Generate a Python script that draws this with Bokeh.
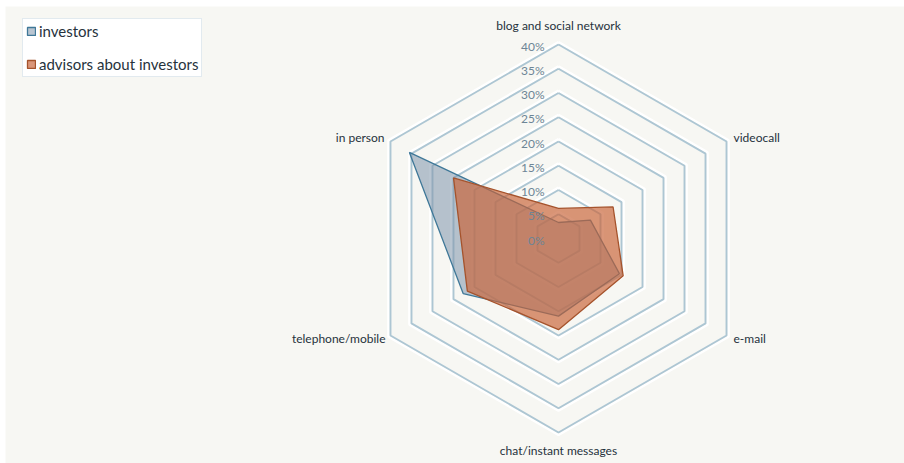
import numpy as np
from bokeh.plotting import figure
from bokeh.models import ColumnDataSource, Legend, LegendItem
from bokeh.core.properties import value
from bokeh.embed import file_html
from bokeh.resources import INLINE

# ---- data ----
categories = ["blog and social network", "videocall", "e-mail",
              "chat/instant messages", "telephone/mobile", "in person"]
investors = [3.3, 7.6, 14.5, 16.0, 22.7, 35.5]
advisors = [6.2, 13.0, 15.4, 18.8, 21.7, 25.0]
ring_ticks = [0, 5, 10, 15, 20, 25, 30, 35, 40]
tick_labels = ["0%", "5%", "10%", "15%", "20%", "25%", "30%", "35%", "40%"]
series_names = ["investors", "advisors about investors"]

# ---- geometry ----
W, H = 904, 463
scale = 4.85            # pixels per percentage point
cx, cy = 558, 238       # centre in canvas pixels
ml, mt = 5, 6           # white margins (left, top)
n = len(categories)
ang = np.arange(n) * 2 * np.pi / n


def poly(vals):
    v = np.asarray(vals, dtype=float)
    xs = v * np.sin(ang)
    ys = v * np.cos(ang)
    return list(xs), list(ys)


x_start = -(cx - ml) / scale
x_end = (W - cx) / scale
y_end = (cy - mt) / scale
y_start = -(H - cy) / scale

FONT = value("Lato")

p = figure(width=W, height=H, x_range=(x_start, x_end), y_range=(y_start, y_end),
           output_backend="svg", toolbar_location=None,
           x_axis_location=None, y_axis_location=None,
           min_border_left=ml, min_border_top=mt, min_border_right=0, min_border_bottom=0,
           background_fill_color="#f7f7f3", border_fill_color="#ffffff")
p.grid.visible = False
p.outline_line_color = None

# ---- hexagonal grid rings ----
for t in ring_ticks[1:]:
    hx, hy = poly([t + 0.5] * n)
    p.line(hx + hx[:1], hy + hy[:1], line_color="#ffffff", line_width=2.4)
    gx, gy = poly([t] * n)
    p.line(gx + gx[:1], gy + gy[:1], line_color="#adc6d3", line_width=1.9)

# ---- series ----
ix, iy = poly(investors)
r_inv = p.patch(ix, iy, fill_color="#7f96ab", fill_alpha=0.55,
                line_color="#3f7898", line_width=1.3)
ax, ay = poly(advisors)
r_adv = p.patch(ax, ay, fill_color="#c8643a", fill_alpha=0.68,
                line_color="#a5532c", line_width=1.3)

# ---- radial tick labels ----
p.text(x=[0] * len(ring_ticks), y=ring_ticks, text=tick_labels,
       text_align="right", text_baseline="middle", x_offset=-14, y_offset=1.5,
       text_font=FONT, text_font_size="12px", text_color="#6d8596")

# ---- category labels ----
lx, ly = poly([ring_ticks[-1]] * n)
cat_src = ColumnDataSource(dict(
    x=lx, y=ly, text=categories,
    align=["center", "left", "left", "center", "right", "right"],
    xo=[0, 7, 7, 0, -5, -6],
    yo=[-19, -4, 3, 18, 3, -4],
))
p.text(x="x", y="y", text="text", text_align="align", text_baseline="middle",
       x_offset="xo", y_offset="yo", source=cat_src,
       text_font=FONT, text_font_size="12px", text_color="#26323c")

# ---- legend ----
legend = Legend(items=[LegendItem(label=series_names[0], renderers=[r_inv]),
                       LegendItem(label=series_names[1], renderers=[r_adv])],
                location=(22 - ml, H - 77),
                orientation="vertical",
                background_fill_color="#ffffff", background_fill_alpha=1.0,
                border_line_color="#c6d6df", border_line_width=1,
                label_text_font="Lato", label_text_font_size="15px",
                label_text_color="#26323c",
                glyph_width=10, glyph_height=10, label_standoff=3,
                label_height=18, spacing=15, padding=3, margin=0)
p.add_layout(legend, "center")

open("out.html", "w").write(file_html(p, INLINE))
